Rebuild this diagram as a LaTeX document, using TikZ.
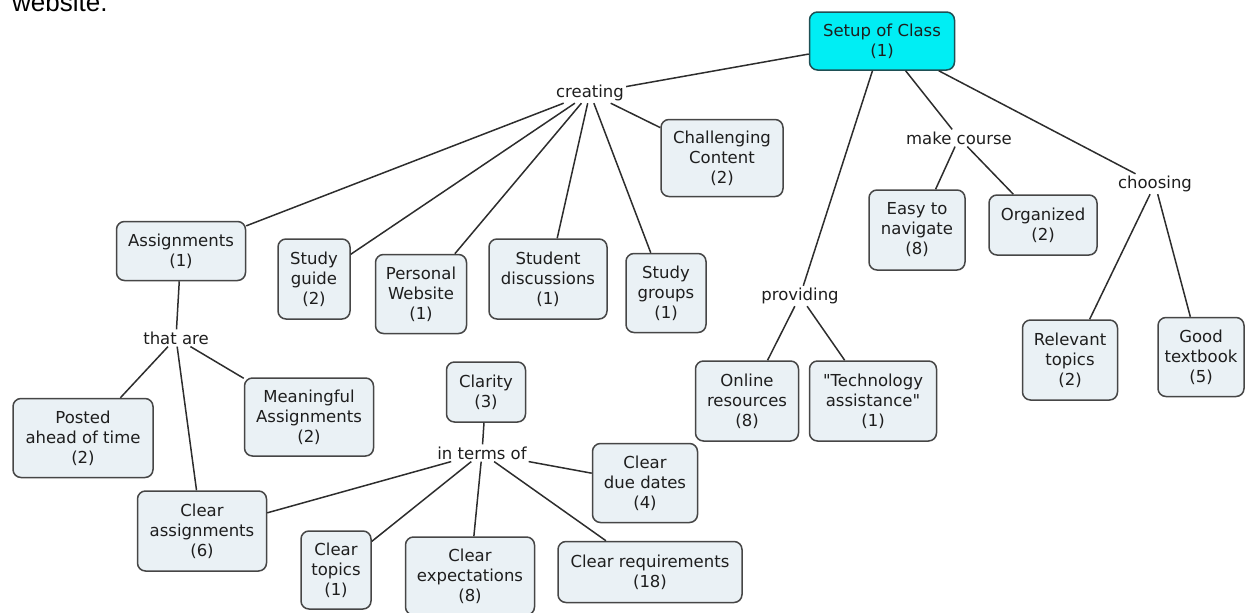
\documentclass[tikz,border=0pt]{standalone}
\usepackage{fontspec}
\setmainfont{DejaVu Sans}[Ligatures=TeXOff]
\newfontfamily\headfont{Liberation Sans}
\definecolor{boxfill}{RGB}{234,241,245}
\definecolor{boxborder}{RGB}{70,70,70}
\definecolor{rootfill}{RGB}{0,238,244}
\definecolor{rootborder}{RGB}{30,80,85}
\definecolor{linecol}{RGB}{45,45,45}
\definecolor{txtcol}{RGB}{30,30,30}
\begin{document}
\begin{tikzpicture}[x=1pt,y=-1pt,
  nfont/.style={font=\fontsize{16.5}{20}\selectfont, text=txtcol},
  cbox/.style={nfont, draw=boxborder, fill=boxfill, rounded corners=8pt, line width=1.5pt, align=center, inner sep=0pt},
  rootbox/.style={cbox, draw=rootborder, fill=rootfill},
  lbl/.style={nfont, inner sep=2pt},
  conn/.style={line width=1.5pt, draw=linecol}]
\useasboundingbox (0,0) rectangle (1248,613);
\clip (0,0) rectangle (1248,613);
\node[font=\headfont\fontsize{26}{30}\selectfont, anchor=base west, inner sep=0pt] (web) at (12,12) {website.};
% boxes
\node[rootbox, minimum width=145pt, minimum height=58pt] (root) at (882,41) {Setup of Class\\(1)};
\node[cbox, minimum width=122pt, minimum height=77pt] (chall) at (722,158) {Challenging\\Content\\(2)};
\node[cbox, minimum width=129pt, minimum height=59pt] (assign) at (181,251) {Assignments\\(1)};
\node[cbox, minimum width=72pt, minimum height=80pt] (sguide) at (314,279) {Study\\guide\\(2)};
\node[cbox, minimum width=91pt, minimum height=79pt] (pweb) at (421,294) {Personal\\Website\\(1)};
\node[cbox, minimum width=118pt, minimum height=80pt] (sdisc) at (548,279) {Student\\discussions\\(1)};
\node[cbox, minimum width=80pt, minimum height=79pt] (sgroups) at (666,293) {Study\\groups\\(1)};
\node[cbox, minimum width=140pt, minimum height=79pt] (posted) at (83,438) {Posted\\ahead of time\\(2)};
\node[cbox, minimum width=129pt, minimum height=78pt] (meaning) at (309,417) {Meaningful\\Assignments\\(2)};
\node[cbox, minimum width=129pt, minimum height=80pt] (clearas) at (202,531) {Clear\\assignments\\(6)};
\node[cbox, minimum width=79pt, minimum height=60pt] (clarity) at (486,392) {Clarity\\(3)};
\node[cbox, minimum width=105pt, minimum height=79pt] (due) at (645,483) {Clear\\due dates\\(4)};
\node[cbox, minimum width=70pt, minimum height=78pt] (ctopics) at (336,570) {Clear\\topics\\(1)};
\node[cbox, minimum width=129pt, minimum height=78pt] (cexp) at (470,576) {Clear\\expectations\\(8)};
\node[cbox, minimum width=184pt, minimum height=61pt] (creq) at (650,572) {Clear requirements\\(18)};
\node[cbox, minimum width=103pt, minimum height=80pt] (online) at (747,401) {Online\\resources\\(8)};
\node[cbox, minimum width=127pt, minimum height=80pt] (tech) at (873,401) {"Technology\\assistance"\\(1)};
\node[cbox, minimum width=96pt, minimum height=80pt] (easy) at (917,230) {Easy to\\navigate\\(8)};
\node[cbox, minimum width=108pt, minimum height=60pt] (org) at (1043,225) {Organized\\(2)};
\node[cbox, minimum width=95pt, minimum height=80pt] (rel) at (1070,360) {Relevant\\topics\\(2)};
\node[cbox, minimum width=86pt, minimum height=79pt] (good) at (1201,357) {Good\\textbook\\(5)};
% linking labels
\node[lbl] (creating) at (590,93) {creating};
\node[lbl] (thatare) at (176,338) {that are};
\node[lbl] (interms) at (482,453) {in terms of};
\node[lbl] (providing) at (800,296) {providing};
\node[lbl] (make) at (959,138) {make course};
\node[lbl] (choosing) at (1155,184) {choosing};
% connectors
\draw[conn] (root) -- (creating);
\draw[conn] (creating) -- (chall);
\draw[conn] (creating) -- (assign);
\draw[conn] (creating) -- (sguide);
\draw[conn] (creating) -- (pweb);
\draw[conn] (creating) -- (sdisc);
\draw[conn] (creating) -- (sgroups);
\draw[conn] (root) -- (providing);
\draw[conn] (providing) -- (online);
\draw[conn] (providing) -- (tech);
\draw[conn] (root) -- (make);
\draw[conn] (make) -- (easy);
\draw[conn] (make) -- (org);
\draw[conn] (root) -- (choosing);
\draw[conn] (choosing) -- (rel);
\draw[conn] (choosing) -- (good);
\draw[conn] (assign) -- (thatare);
\draw[conn] (thatare) -- (posted);
\draw[conn] (thatare) -- (clearas);
\draw[conn] (thatare) -- (meaning);
\draw[conn] (clarity) -- (interms);
\draw[conn] (interms) -- (clearas);
\draw[conn] (interms) -- (ctopics);
\draw[conn] (interms) -- (cexp);
\draw[conn] (interms) -- (creq);
\draw[conn] (interms) -- (due);
\end{tikzpicture}
\end{document}
